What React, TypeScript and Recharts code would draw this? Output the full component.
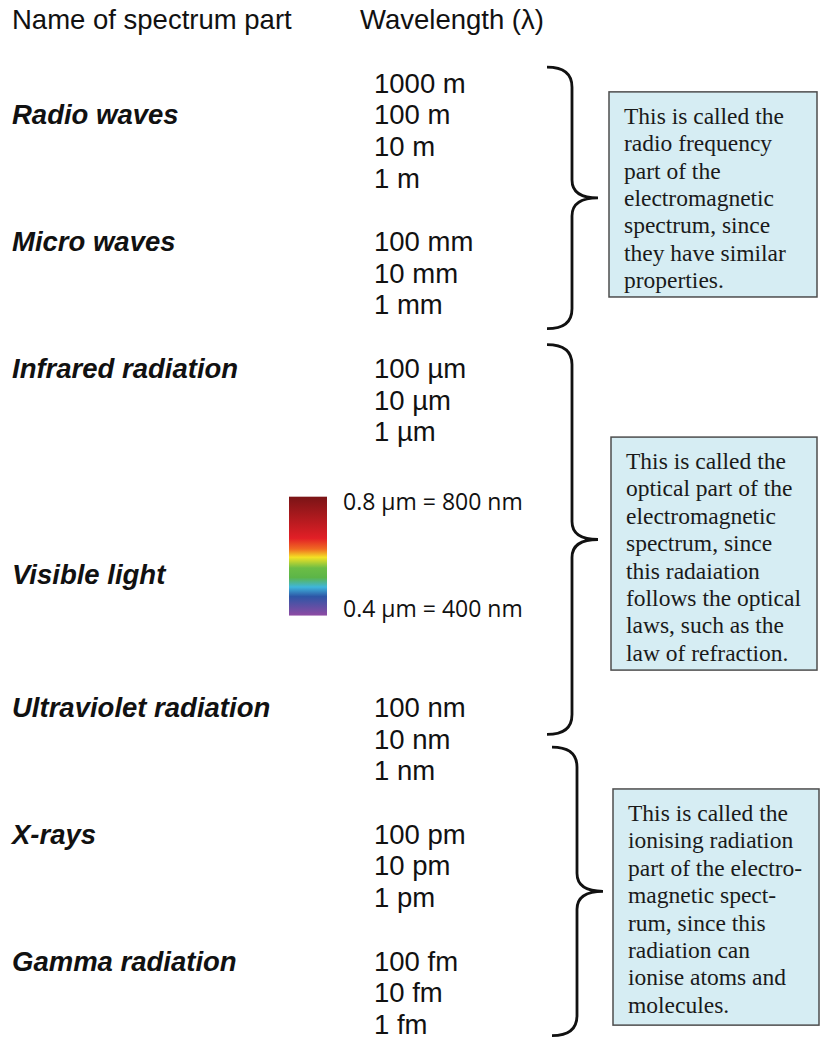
import { ScatterChart, Scatter, XAxis, YAxis, ReferenceArea } from 'recharts'

// column headings
const headings = ['Name of spectrum part', 'Wavelength (λ)']
const headingRow = -2

// spectrum parts (row = line slot in the table)
const partNames = [
  'Radio waves',
  'Micro waves',
  'Infrared radiation',
  'Visible light',
  'Ultraviolet radiation',
  'X-rays',
  'Gamma radiation',
]
const partRows = [1, 5, 9, 15.5, 19.7, 23.7, 27.7]

// wavelength ladder
const wavelengths = [
  '1000 m', '100 m', '10 m', '1 m',
  '100 mm', '10 mm', '1 mm',
  '100 µm', '10 µm', '1 µm',
  '100 nm', '10 nm', '1 nm',
  '100 pm', '10 pm', '1 pm',
  '100 fm', '10 fm', '1 fm',
]
const wavelengthRows = [
  0, 1, 2, 3,
  5, 6, 7,
  9, 10, 11,
  19.7, 20.7, 21.7,
  23.7, 24.7, 25.7,
  27.7, 28.7, 29.7,
]

// visible band
const visibleLabels = ['0.8 µm = 800 nm', '0.4 µm = 400 nm']
const visibleRows = [13.2, 16.55]
const visibleBand = [13.05, 16.8]

// groupings: brace spans and note boxes
const braceSpans = [
  [-0.5, 7.75],
  [8.25, 20.55],
  [20.95, 30.05],
]
const noteSpans = [
  [0.28, 6.75],
  [11.17, 18.52],
  [22.27, 29.72],
]
const notes = [
  [
    'This is called the',
    'radio frequency',
    'part of the',
    'electromagnetic',
    'spectrum, since',
    'they have similar',
    'properties.',
  ],
  [
    'This is called the',
    'optical part of the',
    'electromagnetic',
    'spectrum, since',
    'this radaiation',
    'follows the optical',
    'laws, such as the',
    'law of refraction.',
  ],
  [
    'This is called the',
    'ionising radiation',
    'part of the electro-',
    'magnetic spect-',
    'rum, since this',
    'radiation can',
    'ionise atoms and',
    'molecules.',
  ],
]

const W = 824
const H = 1046
const ROW_PX = 31.7
const FIRST_ROW_PX = 83
const SANS = '"Liberation Sans", Arial, sans-serif'
const SERIF = '"Liberation Serif", "Times New Roman", serif'

const NAME_X = 12
const WAVE_X = 374
const HEAD_X = [12, 360]
const VIS_LABEL_X = 343
const BAND_X = [289, 327]
const BRACE_X = [
  [547, 598],
  [547, 598],
  [552, 603],
]
const NOTE_X = [
  [609, 817],
  [611, 817],
  [613, 819],
]

const headingData = headings.map((label, i) => ({ label, x: HEAD_X[i], row: headingRow }))
const nameData = partNames.map((label, i) => ({ label, x: NAME_X, row: partRows[i] }))
const waveData = wavelengths.map((label, i) => ({ label, x: WAVE_X, row: wavelengthRows[i] }))
const visData = visibleLabels.map((label, i) => ({ label, x: VIS_LABEL_X, row: visibleRows[i] }))

const textShape =
  (style: { weight?: string; italic?: boolean; size: number; family: string }) =>
  (p: any) => (
    <text
      x={p.cx}
      y={p.cy}
      dominantBaseline="central"
      fontFamily={style.family}
      fontSize={style.size}
      fontWeight={style.weight ?? 'normal'}
      fontStyle={style.italic ? 'italic' : 'normal'}
      fill="#111"
    >
      {p.payload.label}
    </text>
  )

const braceShape = (p: any) => {
  const x0 = p.x
  const x1 = p.x + 25
  const x2 = p.x + p.width
  const y0 = p.y
  const y1 = p.y + p.height
  const ym = p.y + p.height / 2
  const r = 20
  const t = 18
  const d = `M${x0},${y0} Q${x1},${y0} ${x1},${y0 + r} L${x1},${ym - t} Q${x1},${ym} ${x2},${ym} Q${x1},${ym} ${x1},${ym + t} L${x1},${y1 - r} Q${x1},${y1} ${x0},${y1}`
  return <path d={d} fill="none" stroke="#111" strokeWidth={2.8} />
}

const noteShape = (lines: string[]) => (p: any) => (
  <g>
    <rect x={p.x} y={p.y} width={p.width} height={p.height} fill="#d6edf3" stroke="#4d4d4d" strokeWidth={1.5} />
    {lines.map((line, i) => (
      <text
        key={i}
        x={p.x + 15}
        y={p.y + 24 + i * 27.4}
        dominantBaseline="central"
        fontFamily={SERIF}
        fontSize={23.5}
        fill="#1a1a1a"
      >
        {line}
      </text>
    ))}
  </g>
)

const bandShape = (p: any) => (
  <g>
    <defs>
      <linearGradient id="visible" x1="0" y1="0" x2="0" y2="1">
        <stop offset="0%" stopColor="#7a1416" />
        <stop offset="35%" stopColor="#e21f26" />
        <stop offset="44%" stopColor="#f06a22" />
        <stop offset="51%" stopColor="#f4e224" />
        <stop offset="60%" stopColor="#6cbd45" />
        <stop offset="68%" stopColor="#5cb548" />
        <stop offset="76%" stopColor="#3fb6dc" />
        <stop offset="84%" stopColor="#2d56a6" />
        <stop offset="100%" stopColor="#8e4aa3" />
      </linearGradient>
    </defs>
    <rect x={p.x} y={p.y} width={p.width} height={p.height} fill="url(#visible)" />
  </g>
)

export default function App() {
  const yMin = -FIRST_ROW_PX / ROW_PX
  const yMax = (H - FIRST_ROW_PX) / ROW_PX
  return (
    <div style={{ position: 'absolute', left: 0, top: 0, background: '#fff' }}>
      <ScatterChart width={W} height={H} margin={{ top: 0, right: 0, bottom: 0, left: 0 }}>
        <XAxis type="number" dataKey="x" domain={[0, W]} allowDataOverflow hide />
        <YAxis type="number" dataKey="row" domain={[yMin, yMax]} allowDataOverflow reversed hide />

        <ReferenceArea x1={BAND_X[0]} x2={BAND_X[1]} y1={visibleBand[0]} y2={visibleBand[1]} shape={bandShape} />

        {braceSpans.map((s, i) => (
          <ReferenceArea key={'b' + i} x1={BRACE_X[i][0]} x2={BRACE_X[i][1]} y1={s[0]} y2={s[1]} shape={braceShape} />
        ))}
        {noteSpans.map((s, i) => (
          <ReferenceArea key={'n' + i} x1={NOTE_X[i][0]} x2={NOTE_X[i][1]} y1={s[0]} y2={s[1]} shape={noteShape(notes[i])} />
        ))}

        <Scatter data={headingData} isAnimationActive={false} shape={textShape({ size: 27.5, family: SANS })} />
        <Scatter
          data={nameData}
          isAnimationActive={false}
          shape={textShape({ size: 27.5, family: SANS, weight: 'bold', italic: true })}
        />
        <Scatter data={waveData} isAnimationActive={false} shape={textShape({ size: 27.5, family: SANS })} />
        <Scatter data={visData} isAnimationActive={false} shape={textShape({ size: 23, family: '"Open Sans", sans-serif' })} />
      </ScatterChart>
    </div>
  )
}
